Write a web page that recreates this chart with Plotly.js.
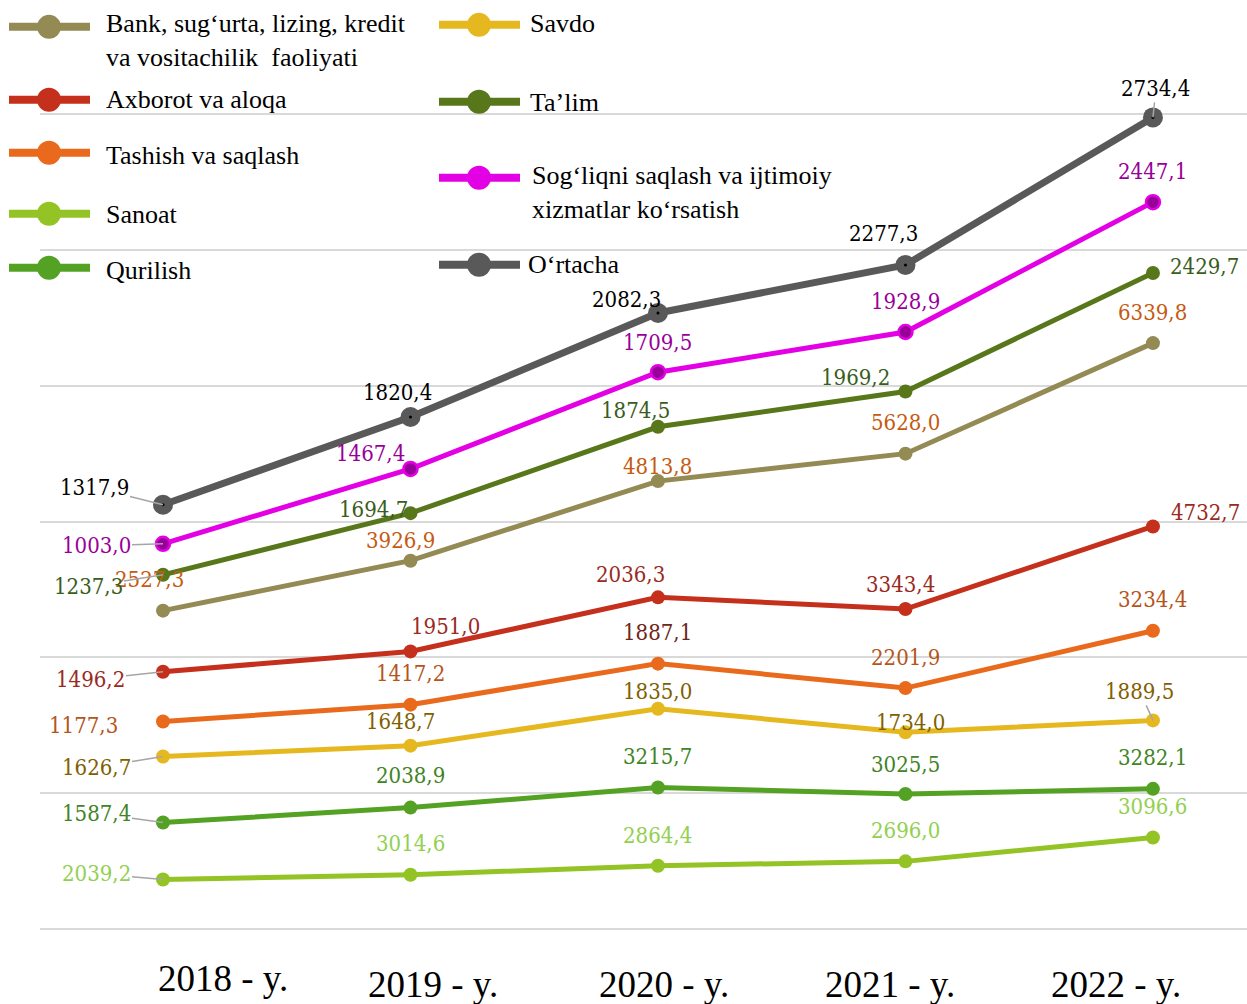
<!DOCTYPE html>
<html><head><meta charset="utf-8">
<script src="https://cdn.plot.ly/plotly-3.0.1.min.js"></script>
<style>html,body{margin:0;padding:0;background:#fff}#chart{width:1247px;height:1004px}</style>
</head><body><div id="chart"></div>
<script>
// ---------- DATA ----------
const years = ["2018 - y.", "2019 - y.", "2020 - y.", "2021 - y.", "2022 - y."];

const seriesNames = [
  "Bank, sug‘urta, lizing, kredit<br>va vositachilik  faoliyati",
  "Axborot va aloqa",
  "Tashish va saqlash",
  "Sanoat",
  "Qurilish",
  "Savdo",
  "Ta’lim",
  "Sog‘liqni saqlash va ijtimoiy<br>xizmatlar ko‘rsatish",
  "O‘rtacha"
];

// plotted positions as drawn on the chart's (hidden) vertical scale
const bankPos     = [1172, 1356, 1649, 1750, 2157];
const axborotPos  = [947, 1022, 1221, 1178, 1482];
const tashishPos  = [764, 826, 977, 887, 1098];
const sanoatPos   = [182, 200, 233, 249, 337];
const qurilishPos = [392, 447, 521, 497, 516];
const savdoPos    = [635, 675, 811, 724, 768];
const talimPos    = [1304, 1531, 1849, 1979, 2415];
const sogliqPos   = [1418, 1694, 2050, 2198, 2676];
const ortachaPos  = [1562, 1885, 2268, 2445, 2988];

// values printed as data labels
const bankVals     = [2527.3, 3926.9, 4813.8, 5628.0, 6339.8];
const axborotVals  = [1496.2, 1951.0, 2036.3, 3343.4, 4732.7];
const tashishVals  = [1177.3, 1417.2, 1887.1, 2201.9, 3234.4];
const sanoatVals   = [2039.2, 3014.6, 2864.4, 2696.0, 3096.6];
const qurilishVals = [1587.4, 2038.9, 3215.7, 3025.5, 3282.1];
const savdoVals    = [1626.7, 1648.7, 1835.0, 1734.0, 1889.5];
const talimVals    = [1237.3, 1694.7, 1874.5, 1969.2, 2429.7];
const sogliqVals   = [1003.0, 1467.4, 1709.5, 1928.9, 2447.1];
const ortachaVals  = [1317.9, 1820.4, 2082.3, 2277.3, 2734.4];

// ---------- STYLE / LAYOUT HELPERS ----------
const W = 1247, H = 1004;
const YMAX = 3030;
const ML = 40, MR = 0, MB = H - 929.3;
const MT = 114.3 - (YMAX - 3000) * 815 / 3000;
const PW = W - ML - MR, PH = H - MT - MB;
const px2x = p => (p - ML) / PW;
const py2y = p => (H - MB - p) / PH;

const lineColors  = ["#948a54", "#c4301c", "#e96a1c", "#93c325", "#53a224", "#e6b820", "#58771a", "#e400e4", "#595959"];
const labelColors = ["#c55a11", "#9a2a1e", "#b5551c", "#92d050", "#3f8425", "#7f6000", "#385d1c", "#990099", "#000000"];
const positions = [bankPos, axborotPos, tashishPos, sanoatPos, qurilishPos, savdoPos, talimPos, sogliqPos, ortachaPos];
const values = [bankVals, axborotVals, tashishVals, sanoatVals, qurilishVals, savdoVals, talimVals, sogliqVals, ortachaVals];

// label offsets in screen pixels [dx, dy, leader]
const labelOffsets = [
  [[-14,-31,0],[-10,-20,0],[0,-15,0],[0,-31,0],[0,-31,0]],
  [[-73,8,1],[35,-25,0],[-27,-23,0],[-5,-25,0],[53,-14,0]],
  [[-80,4,0],[0,-31,0],[0,-31,0],[0,-31,0],[0,-31,0]],
  [[-67,-6,1],[0,-31,0],[0,-30,0],[0,-31,0],[0,-31,0]],
  [[-67,-9,1],[0,-32,0],[0,-31,0],[0,-30,0],[0,-31,0]],
  [[-67,11,1],[-10,-24,0],[0,-17,0],[5,-10,0],[-13,-29,1]],
  [[-75,12,1],[-37,-4,0],[-22,-16,0],[-50,-14,0],[52,-7,0]],
  [[-67,2,1],[-40,-15,0],[0,-30,0],[0,-30,0],[0,-31,0]],
  [[-69,-17,1],[-13,-25,0],[-31,-13,0],[-22,-31,0],[3,-29,1]]
];
const labelColorOverride = {"2,2": "#6e2618"};

const xIdx = years.map((_, i) => i);
const traces = [];
positions.forEach((pos, s) => {
  const isAvg = s === 8, isHealth = s === 7;
  traces.push({
    type: "scatter", mode: "lines+markers", x: xIdx, y: pos,
    name: seriesNames[s], showlegend: false, hoverinfo: "skip",
    line: {color: lineColors[s], width: isAvg ? 7 : 5},
    marker: {
      size: isAvg ? 20 : 14,
      color: isHealth ? "#990099" : lineColors[s],
      line: {color: lineColors[s], width: isHealth ? 2.5 : 0}
    }
  });
});
// draw lower series first, average last
const order = [3,4,5,2,1,0,6,7,8];
const data = order.map(i => traces[i]);
// small black centre dot on the average markers
data.push({type: "scatter", mode: "markers", x: xIdx, y: ortachaPos, showlegend: false,
  hoverinfo: "skip", marker: {size: 3, color: "#000"}});

const fmt = v => v.toFixed(1).replace(".", ",");
const annotations = [];
const labelFont = "DejaVu Serif Condensed, DejaVu Serif, Liberation Serif, serif";
values.forEach((vals, s) => {
  vals.forEach((v, i) => {
    const [dx, dy, leader] = labelOffsets[s][i];
    const col = labelColorOverride[s + "," + i] || labelColors[s];
    const a = {
      x: i, y: positions[s][i], xref: "x", yref: "y",
      text: fmt(v), font: {family: labelFont, size: 22, color: col}
    };
    if (leader) {
      Object.assign(a, {showarrow: true, ax: dx, ay: dy, arrowhead: 0, arrowwidth: 1.5,
        arrowcolor: "#a6a6a6", standoff: 0, startstandoff: 0});
    } else {
      Object.assign(a, {showarrow: false, xshift: dx, yshift: -dy});
    }
    annotations.push(a);
  });
});

// category labels
const yearShift = [60, 23, 6, -15, -37];
const yearY = [979, 985, 985, 985, 985];
years.forEach((t, i) => {
  annotations.push({
    x: i, xref: "x", y: py2y(yearY[i]), yref: "paper", text: t, showarrow: false,
    xshift: yearShift[i], yanchor: "middle",
    font: {family: "Liberation Serif, Times New Roman, serif", size: 37, color: "#000"}
  });
});

// legend (manual)
const legendPos = [
  {sx: 49, sy: 27, tx: 104, ty: 41},
  {sx: 49, sy: 100, tx: 104, ty: 100},
  {sx: 49, sy: 153, tx: 104, ty: 156},
  {sx: 49, sy: 214, tx: 104, ty: 215},
  {sx: 49, sy: 268, tx: 104, ty: 271},
  {sx: 479, sy: 25, tx: 528, ty: 24},
  {sx: 479, sy: 102, tx: 528, ty: 103},
  {sx: 479, sy: 178, tx: 530, ty: 193},
  {sx: 479, sy: 265, tx: 526, ty: 265}
];
const shapes = [];
legendPos.forEach((p, s) => {
  shapes.push({type: "line", xref: "paper", yref: "paper",
    x0: px2x(p.sx - 40), x1: px2x(p.sx + 41), y0: py2y(p.sy), y1: py2y(p.sy),
    line: {color: lineColors[s], width: 8}});
  const r = 12;
  shapes.push({type: "circle", xref: "paper", yref: "paper",
    x0: px2x(p.sx - r), x1: px2x(p.sx + r), y0: py2y(p.sy + r), y1: py2y(p.sy - r),
    fillcolor: lineColors[s], line: {width: 0}});
  annotations.push({xref: "paper", yref: "paper", x: px2x(p.tx), y: py2y(p.ty),
    xanchor: "left", yanchor: "middle", align: "left", showarrow: false,
    text: seriesNames[s],
    font: {family: "Liberation Serif, Times New Roman, serif", size: 26, color: "#000"}});
});

const layout = {
  width: W, height: H,
  margin: {l: ML, r: MR, t: MT, b: MB},
  paper_bgcolor: "#fff", plot_bgcolor: "#fff",
  showlegend: false,
  xaxis: {range: [-0.497, 4.38], showticklabels: false, showgrid: false, zeroline: false, showline: false, ticks: ""},
  yaxis: {range: [0, YMAX], dtick: 500, tick0: 0, showticklabels: false, showgrid: true,
    gridcolor: "#d9d9d9", gridwidth: 2, zeroline: true, zerolinecolor: "#d9d9d9", zerolinewidth: 2,
    showline: false, ticks: ""},
  annotations: annotations,
  shapes: shapes
};

Plotly.newPlot("chart", data, layout, {displayModeBar: false, staticPlot: true});
</script>
</body></html>
